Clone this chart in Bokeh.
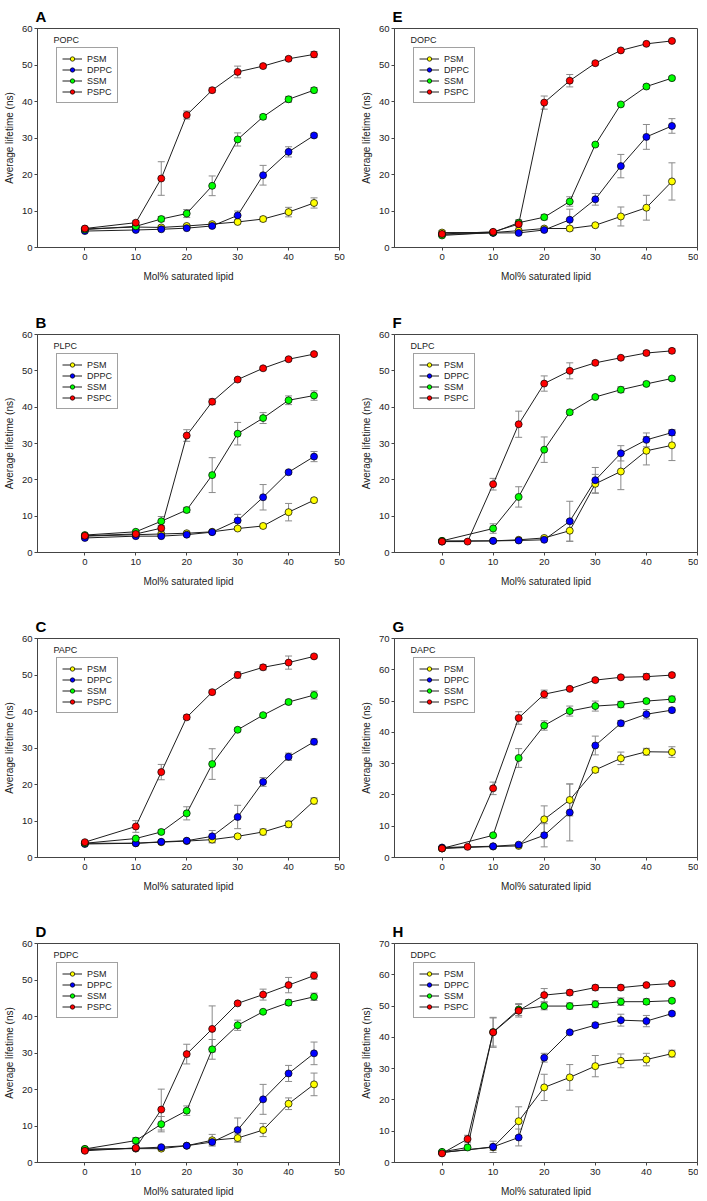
import numpy as np
from bokeh.plotting import figure
from bokeh.layouts import column, row
from bokeh.models import (ColumnDataSource, Whisker, TeeHead, Legend, LegendItem,
                          Label, Range1d, FixedTicker)
from bokeh.embed import file_html
from bokeh.resources import INLINE

# ---------------- data ----------------
X9 = [0, 10, 15, 20, 25, 30, 35, 40, 45]
X10 = [0, 5, 10, 15, 20, 25, 30, 35, 40, 45]
SERIES = ["PSM", "DPPC", "SSM", "PSPC"]
XTICKS = [0, 10, 20, 30, 40, 50]

# A  POPC
POPC_PSM = [5.1, 5.6, 5.5, 5.9, 6.4, 7.0, 7.8, 9.7, 12.2]
POPC_PSM_ERR = [0.3, 0.4, 0.4, 0.4, 0.4, 0.4, 0.6, 1.3, 1.4]
POPC_DPPC = [4.5, 4.8, 5.0, 5.3, 5.9, 8.8, 19.8, 26.2, 30.7]
POPC_DPPC_ERR = [0.3, 0.3, 0.3, 0.3, 0.4, 1.2, 2.7, 1.4, 0.5]
POPC_SSM = [4.9, 5.8, 7.8, 9.3, 16.9, 29.6, 35.8, 40.6, 43.1]
POPC_SSM_ERR = [0.3, 0.4, 0.7, 1.1, 2.7, 1.8, 0.6, 0.8, 0.7]
POPC_PSPC = [5.2, 6.8, 18.9, 36.3, 43.1, 48.1, 49.7, 51.7, 52.9]
POPC_PSPC_ERR = [0.3, 0.5, 4.6, 1.1, 0.6, 1.6, 0.5, 0.5, 0.8]

# E  DOPC
DOPC_PSM = [4.1, 4.1, 4.6, 5.2, 5.2, 6.1, 8.5, 10.9, 18.1]
DOPC_PSM_ERR = [0.5, 0.3, 0.4, 0.4, 0.6, 0.4, 2.6, 3.4, 5.1]
DOPC_DPPC = [3.6, 4.0, 4.0, 4.8, 7.6, 13.2, 22.3, 30.3, 33.3]
DOPC_DPPC_ERR = [0.3, 0.3, 0.3, 0.4, 2.9, 1.6, 3.2, 3.4, 2.0]
DOPC_SSM = [3.3, 4.1, 6.8, 8.3, 12.6, 28.2, 39.2, 44.1, 46.4]
DOPC_SSM_ERR = [0.3, 0.3, 0.8, 0.7, 1.3, 0.4, 0.4, 0.6, 0.4]
DOPC_PSPC = [3.7, 4.3, 6.4, 39.7, 45.7, 50.5, 54.0, 55.8, 56.6]
DOPC_PSPC_ERR = [0.3, 0.3, 0.8, 1.8, 1.7, 0.5, 0.3, 0.3, 0.3]

# B  PLPC
PLPC_PSM = [4.5, 4.9, 5.1, 5.3, 5.7, 6.6, 7.3, 11.1, 14.4]
PLPC_PSM_ERR = [0.3, 0.3, 0.3, 0.3, 0.3, 0.4, 0.5, 2.4, 0.5]
PLPC_DPPC = [4.0, 4.5, 4.5, 4.9, 5.6, 8.8, 15.2, 22.1, 26.4]
PLPC_DPPC_ERR = [0.3, 0.3, 0.3, 0.3, 0.3, 1.7, 3.5, 0.5, 1.4]
PLPC_SSM = [4.8, 5.7, 8.6, 11.7, 21.3, 32.7, 37.0, 41.9, 43.2]
PLPC_SSM_ERR = [0.3, 0.3, 1.3, 0.7, 4.8, 3.1, 1.5, 1.2, 1.3]
PLPC_PSPC = [4.6, 5.1, 6.7, 32.2, 41.5, 47.6, 50.7, 53.2, 54.6]
PLPC_PSPC_ERR = [0.3, 0.3, 0.7, 1.6, 0.8, 0.4, 0.4, 0.4, 0.4]

# F  DLPC
DLPC_PSM = [3.2, None, 3.2, 3.5, 4.0, 6.0, 18.9, 22.3, 28.0, 29.5]
DLPC_PSM_ERR = [0.3, None, 0.3, 0.3, 0.4, 2.9, 2.6, 5.0, 3.9, 4.2]
DLPC_DPPC = [3.0, None, 3.2, 3.3, 3.5, 8.6, 19.9, 27.3, 31.0, 33.0]
DLPC_DPPC_ERR = [0.3, None, 0.3, 0.3, 0.3, 5.5, 3.5, 2.1, 1.9, 0.8]
DLPC_SSM = [3.2, None, 6.6, 15.3, 28.3, 38.6, 42.8, 44.8, 46.4, 47.9]
DLPC_SSM_ERR = [0.3, None, 1.3, 2.8, 3.5, 0.6, 0.4, 0.8, 0.5, 0.5]
DLPC_PSPC = [3.0, 3.0, 18.8, 35.3, 46.5, 50.0, 52.2, 53.6, 54.9, 55.5]
DLPC_PSPC_ERR = [0.3, 0.3, 1.6, 3.6, 2.1, 2.2, 0.6, 0.4, 0.6, 0.6]

# C  PAPC
PAPC_PSM = [3.9, 3.9, 4.2, 4.5, 4.9, 5.8, 7.0, 9.1, 15.5]
PAPC_PSM_ERR = [0.3, 0.3, 0.3, 0.3, 0.9, 0.4, 0.8, 0.9, 0.8]
PAPC_DPPC = [3.7, 3.9, 4.3, 4.6, 5.8, 11.1, 20.7, 27.6, 31.7]
PAPC_DPPC_ERR = [0.3, 0.3, 0.3, 0.3, 1.6, 3.2, 1.2, 1.0, 0.8]
PAPC_SSM = [3.9, 5.2, 7.0, 12.1, 25.6, 35.0, 39.0, 42.6, 44.5]
PAPC_SSM_ERR = [0.3, 0.3, 0.5, 1.8, 4.2, 0.5, 0.4, 0.6, 1.1]
PAPC_PSPC = [4.2, 8.5, 23.4, 38.4, 45.3, 50.0, 52.1, 53.4, 55.1]
PAPC_PSPC_ERR = [0.3, 1.6, 2.1, 0.6, 0.5, 0.9, 0.7, 1.8, 0.4]

# G  DAPC
DAPC_PSM = [2.9, None, 3.5, 3.7, 12.2, 18.4, 28.0, 31.7, 33.8, 33.7]
DAPC_PSM_ERR = [0.3, None, 0.3, 0.3, 4.3, 5.1, 0.8, 2.0, 1.1, 1.7]
DAPC_DPPC = [3.2, None, 3.6, 4.1, 7.1, 14.4, 35.8, 42.9, 45.8, 47.1]
DAPC_DPPC_ERR = [0.3, None, 0.3, 0.3, 3.7, 9.1, 3.0, 0.9, 1.5, 0.7]
DAPC_SSM = [2.9, None, 7.1, 31.8, 42.2, 46.8, 48.4, 48.9, 50.0, 50.6]
DAPC_SSM_ERR = [0.3, None, 0.3, 3.0, 1.5, 1.6, 1.6, 1.0, 0.6, 1.0]
DAPC_PSPC = [2.9, 3.4, 22.1, 44.6, 52.2, 53.9, 56.7, 57.6, 57.8, 58.3]
DAPC_PSPC_ERR = [0.3, 0.3, 2.0, 2.0, 1.3, 0.5, 0.5, 0.4, 1.0, 0.6]

# D  PDPC
PDPC_PSM = [3.7, 3.8, 3.8, 4.6, 6.1, 6.7, 8.9, 16.1, 21.4]
PDPC_PSM_ERR = [0.3, 0.3, 0.3, 0.3, 1.6, 1.1, 1.8, 1.6, 3.1]
PDPC_DPPC = [3.5, 3.9, 4.2, 4.6, 5.6, 8.9, 17.3, 24.4, 29.9]
PDPC_DPPC_ERR = [0.3, 0.3, 0.3, 0.3, 0.8, 3.3, 4.1, 2.2, 3.1]
PDPC_SSM = [3.7, 6.0, 10.5, 14.2, 31.0, 37.6, 41.3, 43.8, 45.4]
PDPC_SSM_ERR = [0.3, 0.8, 2.1, 1.3, 2.7, 1.4, 0.3, 0.8, 1.0]
PDPC_PSPC = [3.2, 4.0, 14.5, 29.7, 36.6, 43.6, 46.0, 48.6, 51.2]
PDPC_PSPC_ERR = [0.3, 0.4, 5.6, 2.7, 6.3, 0.4, 1.5, 2.1, 1.0]

# H  DDPC
DDPC_PSM = [3.2, None, 4.9, 13.2, 24.0, 27.2, 30.8, 32.5, 32.9, 34.8]
DDPC_PSM_ERR = [0.3, None, 1.0, 4.6, 4.2, 4.1, 3.4, 2.2, 2.0, 1.1]
DDPC_DPPC = [3.2, None, 5.0, 8.0, 33.5, 41.6, 43.9, 45.5, 45.2, 47.6]
DDPC_DPPC_ERR = [0.3, None, 1.8, 2.7, 1.4, 0.6, 0.7, 1.9, 1.8, 0.6]
DDPC_SSM = [3.4, 4.8, 41.7, 48.9, 50.0, 50.0, 50.6, 51.4, 51.4, 51.7]
DDPC_SSM_ERR = [0.3, 0.8, 4.5, 1.9, 1.2, 1.0, 1.1, 1.2, 0.9, 0.6]
DDPC_PSPC = [2.9, 7.5, 41.6, 48.5, 53.5, 54.3, 55.9, 55.9, 56.7, 57.2]
DDPC_PSPC_ERR = [0.3, 1.2, 4.8, 2.0, 2.1, 0.8, 0.8, 0.8, 0.5, 0.5]

# ---------------- styling ----------------
COLORS = {"PSM": "#FFFF00", "DPPC": "#0000FF", "SSM": "#00FF00", "PSPC": "#FF0000"}
FONT = "Liberation Sans"
AX = "#444444"
TXT = "#222222"
ERR = "#8a8a8a"

# panel table built from the named lists above
PANELS = [
    ("A", "POPC", X9, [(POPC_PSM, POPC_PSM_ERR), (POPC_DPPC, POPC_DPPC_ERR), (POPC_SSM, POPC_SSM_ERR), (POPC_PSPC, POPC_PSPC_ERR)], 60),
    ("E", "DOPC", X9, [(DOPC_PSM, DOPC_PSM_ERR), (DOPC_DPPC, DOPC_DPPC_ERR), (DOPC_SSM, DOPC_SSM_ERR), (DOPC_PSPC, DOPC_PSPC_ERR)], 60),
    ("B", "PLPC", X9, [(PLPC_PSM, PLPC_PSM_ERR), (PLPC_DPPC, PLPC_DPPC_ERR), (PLPC_SSM, PLPC_SSM_ERR), (PLPC_PSPC, PLPC_PSPC_ERR)], 60),
    ("F", "DLPC", X10, [(DLPC_PSM, DLPC_PSM_ERR), (DLPC_DPPC, DLPC_DPPC_ERR), (DLPC_SSM, DLPC_SSM_ERR), (DLPC_PSPC, DLPC_PSPC_ERR)], 60),
    ("C", "PAPC", X9, [(PAPC_PSM, PAPC_PSM_ERR), (PAPC_DPPC, PAPC_DPPC_ERR), (PAPC_SSM, PAPC_SSM_ERR), (PAPC_PSPC, PAPC_PSPC_ERR)], 60),
    ("G", "DAPC", X10, [(DAPC_PSM, DAPC_PSM_ERR), (DAPC_DPPC, DAPC_DPPC_ERR), (DAPC_SSM, DAPC_SSM_ERR), (DAPC_PSPC, DAPC_PSPC_ERR)], 70),
    ("D", "PDPC", X9, [(PDPC_PSM, PDPC_PSM_ERR), (PDPC_DPPC, PDPC_DPPC_ERR), (PDPC_SSM, PDPC_SSM_ERR), (PDPC_PSPC, PDPC_PSPC_ERR)], 60),
    ("H", "DDPC", X10, [(DDPC_PSM, DDPC_PSM_ERR), (DDPC_DPPC, DDPC_DPPC_ERR), (DDPC_SSM, DDPC_SSM_ERR), (DDPC_PSPC, DDPC_PSPC_ERR)], 70),
]

# per-row vertical geometry: (min_border_top, frame_height, min_border_bottom)
ROWS = [(28, 219, 59), (28, 218, 58), (28, 219, 58), (28, 219, 38)]
# per-column horizontal geometry: (min_border_left, frame_width, min_border_right)
COLS = [(30, 302, 17), (38, 303, 1)]


def make_panel(letter, lipid, xs, series, ymax, r, c):
    bt, fh, bb = ROWS[r]
    bl, fw, br = COLS[c]
    p = figure(frame_width=fw, frame_height=fh,
               min_border_left=bl, min_border_right=br,
               min_border_top=bt, min_border_bottom=bb,
               x_range=Range1d(-9.3, 50), y_range=Range1d(0, ymax),
               output_backend="svg", toolbar_location=None)
    p.background_fill_color = "white"
    p.border_fill_color = "white"
    p.outline_line_color = AX
    p.outline_line_width = 1
    p.xgrid.visible = False
    p.ygrid.visible = False

    # panel letter as the figure title
    p.title.text = letter
    p.title.text_font = FONT
    p.title.text_font_size = "15px"
    p.title.text_font_style = "bold"
    p.title.text_color = "black"
    p.title.align = "left"
    p.title.offset = -2
    p.title.standoff = 8

    p.xaxis.ticker = FixedTicker(ticks=XTICKS)
    p.yaxis.ticker = FixedTicker(ticks=list(range(0, ymax + 1, 10)))
    p.xaxis.axis_label = "Mol% saturated lipid"
    p.yaxis.axis_label = "Average lifetime (ns)"
    for ax in (p.xaxis[0], p.yaxis[0]):
        ax.axis_line_color = AX
        ax.major_tick_line_color = AX
        ax.minor_tick_line_color = None
        ax.major_tick_out = 3
        ax.major_tick_in = 0
        ax.major_label_text_font = FONT
        ax.major_label_text_font_size = "9.5px"
        ax.major_label_text_color = TXT
        ax.axis_label_text_font = FONT
        ax.axis_label_text_font_size = "10px"
        ax.axis_label_text_font_style = "normal"
        ax.axis_label_text_color = TXT
    p.xaxis.major_label_standoff = 3
    p.xaxis.axis_label_standoff = 8
    p.yaxis.major_label_standoff = 2
    p.yaxis.axis_label_standoff = 4

    x_all = np.array(xs, dtype=float)
    cleaned = []
    for name, (vals, errs) in zip(SERIES, series):
        v = np.array([np.nan if a is None else a for a in vals], dtype=float)
        e = np.array([np.nan if a is None else a for a in errs], dtype=float)
        m = ~np.isnan(v)
        cleaned.append((name, x_all[m], v[m], e[m]))

    # error bars (behind everything)
    for name, x, y, e in cleaned:
        src = ColumnDataSource(dict(x=x, upper=y + e, lower=y - e))
        w = Whisker(source=src, base="x", upper="upper", lower="lower",
                    line_color=ERR, line_width=1, level="underlay",
                    upper_head=TeeHead(size=7, line_color=ERR, line_width=1),
                    lower_head=TeeHead(size=7, line_color=ERR, line_width=1))
        p.add_layout(w)

    line_r = {}
    for name, x, y, e in cleaned:
        line_r[name] = p.line(x, y, line_color="#1e1e1e", line_width=1)
    scat_r = {}
    for name, x, y, e in cleaned:
        scat_r[name] = p.scatter(x, y, marker="circle", size=7,
                                 fill_color=COLORS[name], line_color="black",
                                 line_width=0.7)

    items = [LegendItem(label=n, renderers=[line_r[n], scat_r[n]]) for n in SERIES]
    leg = Legend(items=items, location="top_left", margin=19, padding=5,
                 spacing=0, glyph_width=20, glyph_height=11, label_height=11,
                 label_standoff=5, label_text_font=FONT,
                 label_text_font_size="9px", label_text_color=TXT,
                 label_text_baseline="middle",
                 border_line_color=AX, border_line_width=1,
                 background_fill_color="white", background_fill_alpha=1)
    p.add_layout(leg)

    p.add_layout(Label(x=16, y=fh - 11.5, x_units="screen", y_units="screen",
                       text=lipid, text_font=FONT, text_font_size="9px",
                       text_color=TXT, text_baseline="middle", text_align="left"))
    return p


figs = []
for i, (letter, lipid, xs, series, ymax) in enumerate(PANELS):
    figs.append(make_panel(letter, lipid, xs, series, ymax, i // 2, i % 2))

layout = column(*[row(figs[2 * k], figs[2 * k + 1]) for k in range(4)])

open("out.html", "w").write(file_html(layout, INLINE))
